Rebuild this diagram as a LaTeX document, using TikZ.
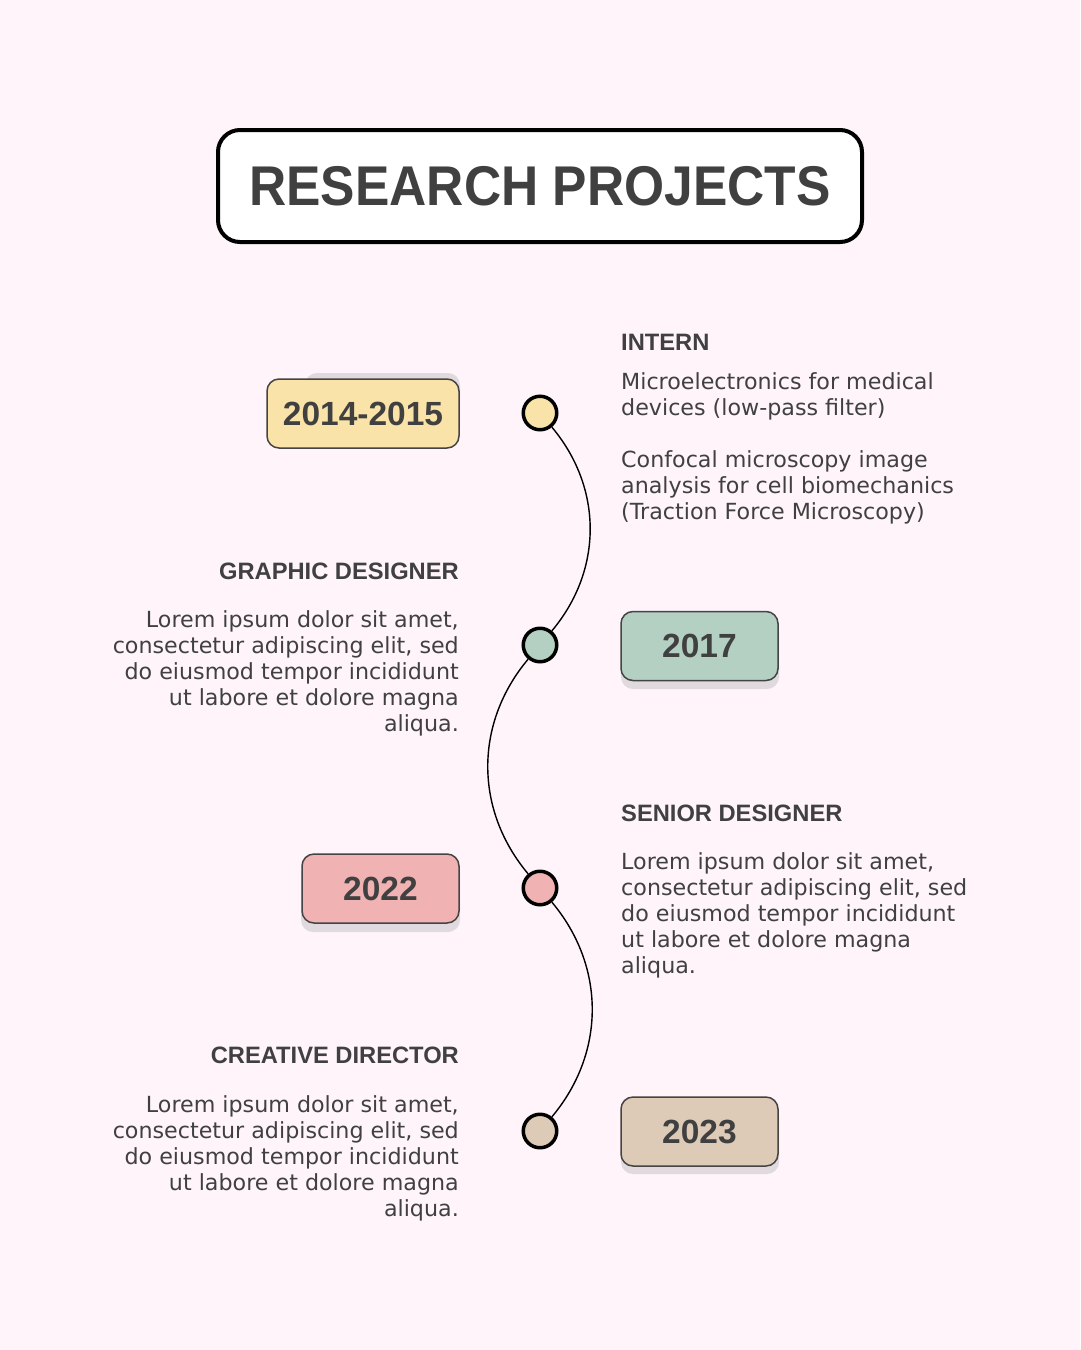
\documentclass[tikz,border=0pt]{standalone}
\usepackage{fontspec}
\setmainfont{DejaVu Sans}
\newfontfamily\headfont{Liberation Sans}
\definecolor{bg}{HTML}{FEF4F9}
\definecolor{ink}{HTML}{404040}
\definecolor{shade}{HTML}{E0DADE}
\definecolor{cYellow}{HTML}{F9E3A8}
\definecolor{cGreen}{HTML}{B3D0C3}
\definecolor{cPink}{HTML}{F0B2B2}
\definecolor{cSand}{HTML}{DDCBB8}
\definecolor{boxline}{HTML}{444444}
\newcommand\firstline{\rule{0pt}{20pt}}
\begin{document}
\begin{tikzpicture}[x=1pt,y=1pt,
  titlebox/.style={draw=black, line width=4pt, fill=white, rounded corners=22pt,
    minimum width=644pt, minimum height=112pt, inner sep=0pt, text=ink,
    font=\headfont\bfseries\fontsize{56}{60}\selectfont},
  datebox/.style={draw=boxline, line width=1.5pt, rounded corners=12pt,
    minimum height=69pt, inner sep=0pt, text=ink,
    font=\headfont\bfseries\fontsize{33.5}{36}\selectfont},
  shadowbox/.style={fill=shade, rounded corners=12pt},
  dot/.style={circle, draw=black, line width=3.5pt, minimum size=33.5pt, inner sep=0pt},
  link/.style={draw=black, line width=1.4pt},
  heading/.style={inner sep=0pt, text=ink, font=\headfont\bfseries\fontsize{23.7}{28}\selectfont},
  body/.style={inner sep=0pt, text=ink, font=\fontsize{22.2}{26}\selectfont}
]
% page
\fill[bg] (0,0) rectangle (1080,-1350);
\useasboundingbox (0,0) rectangle (1080,-1350);

% title
\node[titlebox] (title) at (540,-186) {\scalebox{0.92}[1]{RESEARCH PROJECTS}};

% shadows behind the year tags
\fill[shadowbox] (305,-373) rectangle (460,-440);
\fill[shadowbox] (621,-620) rectangle (779,-689);
\fill[shadowbox] (301,-862) rectangle (460,-932);
\fill[shadowbox] (621,-1105) rectangle (779,-1174);

% year tags
\node[datebox, fill=cYellow, minimum width=192pt] (y1) at (363,-413.5) {2014-2015};
\node[datebox, fill=cGreen, minimum width=157pt] (y2) at (699.5,-646) {2017};
\node[datebox, fill=cPink, minimum width=157pt] (y3) at (380.5,-888.5) {2022};
\node[datebox, fill=cSand, minimum width=157pt] (y4) at (699.5,-1131.5) {2023};

% timeline dots
\node[dot, fill=cYellow] (d1) at (540,-413) {};
\node[dot, fill=cGreen] (d2) at (540,-645) {};
\node[dot, fill=cPink] (d3) at (540,-888) {};
\node[dot, fill=cSand] (d4) at (540,-1131) {};

% wavy timeline
\draw[link] (d1) to[bend left=40] (d2);
\draw[link] (d2) to[bend right=40] (d3);
\draw[link] (d3) to[bend left=40] (d4);

% entries
\node[heading, anchor=base west] (h1) at (621,-350) {INTERN};
\node[body, anchor=north west, align=left] (b1) at (621,-369)
  {\firstline Microelectronics for medical\\devices (low-pass filter)\\[26pt]
   Confocal microscopy image\\analysis for cell biomechanics\\(Traction Force Microscopy)};

\node[heading, anchor=base east] (h2) at (459,-579) {GRAPHIC DESIGNER};
\node[body, anchor=north east, align=right] (b2) at (459,-607)
  {\firstline Lorem ipsum dolor sit amet,\\consectetur adipiscing elit, sed\\do eiusmod tempor incididunt\\ut labore et dolore magna\\aliqua.};

\node[heading, anchor=base west] (h3) at (621,-821) {SENIOR DESIGNER};
\node[body, anchor=north west, align=left] (b3) at (621,-849)
  {\firstline Lorem ipsum dolor sit amet,\\consectetur adipiscing elit, sed\\do eiusmod tempor incididunt\\ut labore et dolore magna\\aliqua.};

\node[heading, anchor=base east] (h4) at (459,-1063) {CREATIVE DIRECTOR};
\node[body, anchor=north east, align=right] (b4) at (459,-1092)
  {\firstline Lorem ipsum dolor sit amet,\\consectetur adipiscing elit, sed\\do eiusmod tempor incididunt\\ut labore et dolore magna\\aliqua.};
\end{tikzpicture}
\end{document}
